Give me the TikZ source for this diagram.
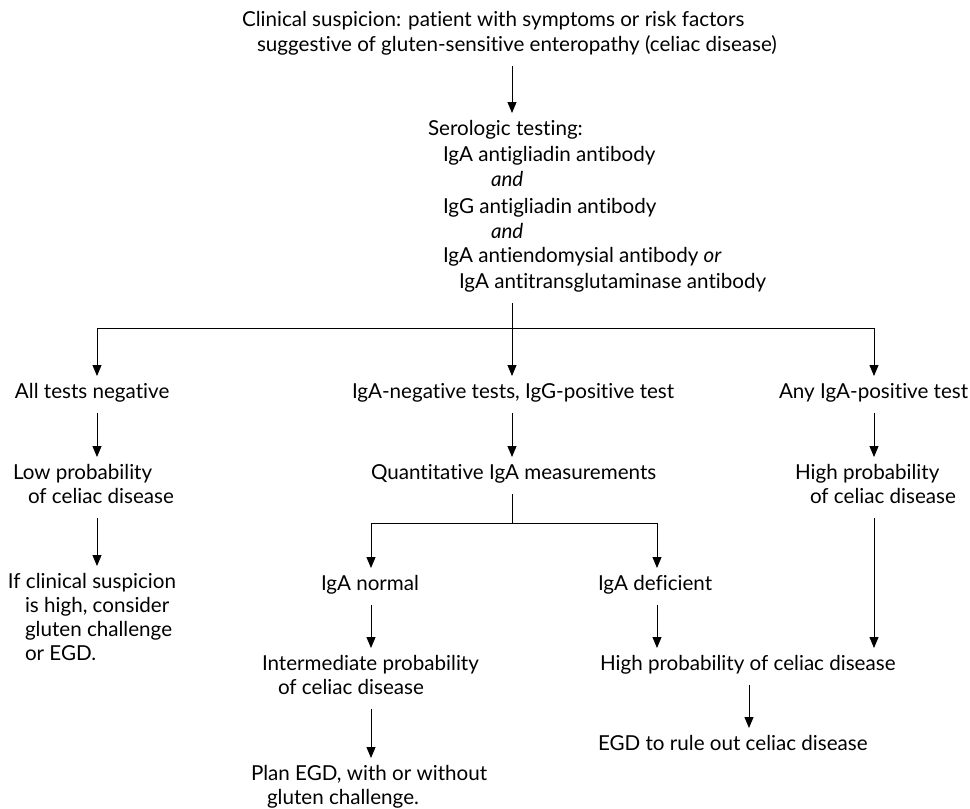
\documentclass[tikz,border=0pt]{standalone}
\usepackage{fontspec}
\setmainfont{Lato}[Ligatures={NoCommon}]
\usetikzlibrary{arrows.meta}
\begin{document}
\begin{tikzpicture}[x=1pt,y=-1pt,
  txt/.style={anchor=base west, inner sep=0pt, outer sep=0pt, text height=15pt, text depth=5pt,
              font=\fontsize{20.6}{24}\selectfont},
  link/.style={line width=0.9pt, black},
  arr/.style={link, -{Triangle[length=11pt,width=9pt]}, shorten <=10pt, shorten >=7pt},
  barr/.style={link, -{Triangle[length=11pt,width=9pt]}, shorten >=7pt}
]
\useasboundingbox (0,0) rectangle (970,809);
% column coordinates
\coordinate (xl) at (97,0);
\coordinate (xm) at (512,0);
\coordinate (xr) at (874,0);
\coordinate (xn) at (371,0);
\coordinate (xd) at (657,0);
\coordinate (xh) at (749,0);
\coordinate (jmain) at (512,328);
\coordinate (jq) at (512,523);

% texts
\node[txt] (t1) at (242,26) {Clinical suspicion: patient with symptoms or risk factors};
\node[txt] (t2) at (257,51) {suggestive of gluten-sensitive enteropathy (celiac disease)};

\node[txt] (s1) at (428,135) {Serologic testing:};
\node[txt] (s2) at (443,161) {IgA antigliadin antibody};
\node[txt] (s3) at (491,186) {\itshape and};
\node[txt] (s4) at (443,213) {IgG antigliadin antibody};
\node[txt] (s5) at (491,238) {\itshape and};
\node[txt] (s6) at (443,262) {IgA antiendomysial antibody \textit{or}};
\node[txt] (s7) at (459,288) {IgA antitransglutaminase antibody};

\node[txt] (neg) at (15,398) {All tests negative};
\node[txt] (igg) at (352,398) {IgA-negative tests, IgG-positive test};
\node[txt] (pos) at (779,398) {Any IgA-positive test};

\node[txt] (low1) at (13,479) {Low probability};
\node[txt] (low2) at (28,503) {of celiac disease};
\node[txt] (quant) at (371,479) {Quantitative IgA measurements};
\node[txt] (high1) at (795,479) {High probability};
\node[txt] (high2) at (810,503) {of celiac disease};

\node[txt] (if1) at (8,588) {If clinical suspicion};
\node[txt] (if2) at (25,612) {is high, consider};
\node[txt] (if3) at (25,636) {gluten challenge};
\node[txt] (if4) at (25,660) {or EGD.};

\node[txt] (norm) at (321,590) {IgA normal};
\node[txt] (def) at (598,590) {IgA deficient};

\node[txt] (int1) at (262,670) {Intermediate probability};
\node[txt] (int2) at (278,694) {of celiac disease};
\node[txt] (hp) at (600,670) {High probability of celiac disease};

\node[txt] (egd) at (598,750) {EGD to rule out celiac disease};
\node[txt] (plan1) at (251,780) {Plan EGD, with or without};
\node[txt] (plan2) at (267,804) {gluten challenge.};

% connectors
\draw[arr] (t2.south -| xm) -- (s1.north -| xm);
\draw[arr] (s7.south -| xm) -- (igg.north -| xm);
\draw[barr] (jmain) -| (neg.north -| xl);
\draw[barr] (jmain) -| (pos.north -| xr);

\draw[arr] (neg.south -| xl) -- (low1.north -| xl);
\draw[arr] (igg.south -| xm) -- (quant.north -| xm);
\draw[arr] (pos.south -| xr) -- (high1.north -| xr);

\draw[arr] (low2.south -| xl) -- (if1.north -| xl);
\draw[link, shorten <=10pt] (quant.south -| xm) -- (jq);
\draw[barr] (jq) -| (norm.north -| xn);
\draw[barr] (jq) -| (def.north -| xd);
\draw[arr] (high2.south -| xr) -- (hp.north -| xr);

\draw[arr] (norm.south -| xn) -- (int1.north -| xn);
\draw[arr] (def.south -| xd) -- (hp.north -| xd);
\draw[arr] (int2.south -| xn) -- (plan1.north -| xn);
\draw[arr] (hp.south -| xh) -- (egd.north -| xh);
\end{tikzpicture}
\end{document}
